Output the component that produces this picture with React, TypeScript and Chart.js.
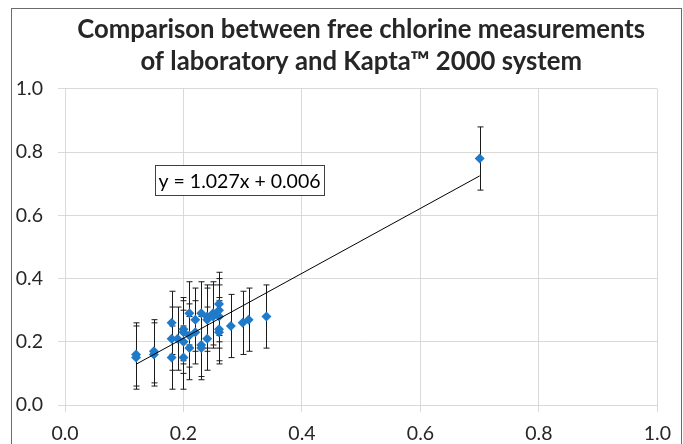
import React, { useEffect, useRef } from "react";
import { Chart, registerables } from "chart.js";

Chart.register(...registerables);

// Laboratory free chlorine (x) vs Kapta 2000 (y), mg/L
const labX = [
  0.12, 0.12, 0.15, 0.15, 0.18, 0.18, 0.18, 0.19, 0.2, 0.2, 0.2, 0.2, 0.21, 0.21, 0.21, 0.22, 0.22,
  0.23, 0.23, 0.23, 0.24, 0.24, 0.24, 0.25, 0.25, 0.26, 0.26, 0.26, 0.26, 0.26, 0.28, 0.3, 0.31,
  0.34, 0.7,
];
const kaptaY = [
  0.16, 0.15, 0.17, 0.16, 0.26, 0.21, 0.15, 0.21, 0.24, 0.23, 0.2, 0.15, 0.29, 0.22, 0.18, 0.27, 0.23,
  0.29, 0.19, 0.18, 0.28, 0.27, 0.21, 0.29, 0.28, 0.32, 0.3, 0.28, 0.24, 0.23, 0.25, 0.26, 0.27,
  0.28, 0.78,
];
const errY = [
  0.1, 0.1, 0.1, 0.1, 0.1, 0.1, 0.1, 0.1, 0.1, 0.1, 0.1, 0.1, 0.1, 0.1, 0.1, 0.1, 0.1,
  0.1, 0.1, 0.1, 0.1, 0.1, 0.1, 0.1, 0.1, 0.1, 0.1, 0.1, 0.1, 0.1, 0.1, 0.1, 0.1,
  0.1, 0.1,
];
// Linear trendline end points
const trendX = [0.12, 0.7];
const trendY = [0.129, 0.725];

const titleLines = ["Comparison between free chlorine measurements", "of laboratory and Kapta\u2122 2000 system"];
const equationText = "y = 1.027x + 0.006";

const BLUE = "#1f7bc9";
const GRID = "#d9d9d9";
const TEXT = "#262626";

const errorBarPlugin = {
  id: "errorBars",
  beforeDatasetsDraw(chart: any) {
    const xs = chart.scales.x;
    const ys = chart.scales.y;
    const ctx = chart.ctx;
    ctx.save();
    ctx.strokeStyle = "#1a1a1a";
    ctx.lineWidth = 1;
    for (let i = 0; i < labX.length; i++) {
      const px = Math.round(xs.getPixelForValue(labX[i])) + 0.5;
      const top = ys.getPixelForValue(kaptaY[i] + errY[i]);
      const bot = ys.getPixelForValue(kaptaY[i] - errY[i]);
      ctx.beginPath();
      ctx.moveTo(px, top);
      ctx.lineTo(px, bot);
      ctx.moveTo(px - 3, top);
      ctx.lineTo(px + 3, top);
      ctx.moveTo(px - 3, bot);
      ctx.lineTo(px + 3, bot);
      ctx.stroke();
    }
    ctx.restore();
  },
};

const equationPlugin = {
  id: "equationBox",
  afterDraw(chart: any) {
    const xs = chart.scales.x;
    const ys = chart.scales.y;
    const ctx = chart.ctx;
    const left = Math.round(xs.getPixelForValue(0.152)) + 0.5;
    const top = Math.round(ys.getPixelForValue(0.76)) + 0.5;
    ctx.save();
    ctx.font = "19.5px Lato";
    const w = ctx.measureText(equationText).width;
    const bw = Math.round(w + 7);
    const bh = 30;
    ctx.fillStyle = "#ffffff";
    ctx.fillRect(left, top, bw, bh);
    ctx.strokeStyle = "#404040";
    ctx.lineWidth = 1;
    ctx.strokeRect(left, top, bw, bh);
    ctx.fillStyle = "#000000";
    ctx.textBaseline = "middle";
    ctx.textAlign = "left";
    ctx.fillText(equationText, left + 3, top + bh / 2 + 1);
    ctx.restore();
  },
};

export default function App() {
  const ref = useRef<HTMLCanvasElement | null>(null);

  useEffect(() => {
    if (!ref.current) return;
    const chart = new Chart(ref.current, {
      type: "scatter",
      data: {
        datasets: [
          {
            type: "line",
            data: trendX.map((x, i) => ({ x, y: trendY[i] })),
            borderColor: "#000000",
            borderWidth: 1,
            pointRadius: 0,
            fill: false,
            order: 0,
          } as any,
          {
            type: "scatter",
            data: labX.map((x, i) => ({ x, y: kaptaY[i] })),
            pointStyle: "rectRot",
            pointRadius: 5,
            backgroundColor: BLUE,
            borderColor: BLUE,
            borderWidth: 0,
            order: 1,
          },
        ],
      },
      options: {
        animation: false,
        responsive: false,
        devicePixelRatio: 1,
        layout: { padding: { left: 0, right: 19, top: 0, bottom: 12 } },
        plugins: {
          legend: { display: false },
          tooltip: { enabled: false },
          title: {
            display: true,
            fullSize: false,
            text: titleLines,
            color: "#262626",
            font: { family: "Lato", weight: "bold", size: 25.7, lineHeight: 1.245 },
            padding: { top: 5, bottom: 11 },
          },
        },
        scales: {
          x: {
            type: "linear",
            min: 0,
            max: 1,
            ticks: {
              stepSize: 0.2,
              color: TEXT,
              font: { family: "Lato", size: 19.5 },
              padding: 10,
              maxRotation: 0,
              callback: (v: any) => Number(v).toFixed(1),
            },
            grid: { color: GRID, tickColor: GRID, tickLength: 7, lineWidth: 1 },
            border: { color: GRID },
            afterFit: (s: any) => {
              s.height = 52;
            },
          },
          y: {
            type: "linear",
            min: 0,
            max: 1,
            ticks: {
              stepSize: 0.2,
              color: TEXT,
              font: { family: "Lato", size: 19.5 },
              padding: 15,
              callback: (v: any) => Number(v).toFixed(1),
            },
            grid: { color: GRID, tickColor: GRID, tickLength: 7, lineWidth: 1 },
            border: { color: GRID },
            afterFit: (s: any) => {
              s.width = 53;
            },
          },
        },
      },
      plugins: [errorBarPlugin, equationPlugin],
    } as any);
    return () => chart.destroy();
  }, []);

  return (
    <div
      style={{
        position: "fixed",
        left: 11,
        top: 8,
        width: 671,
        height: 470,
        boxSizing: "border-box",
        border: "1px solid #6b6b6b",
        background: "#ffffff",
      }}
    >
      <canvas ref={ref} width={669} height={460} style={{ display: "block", width: 669, height: 460 }} />
    </div>
  );
}
